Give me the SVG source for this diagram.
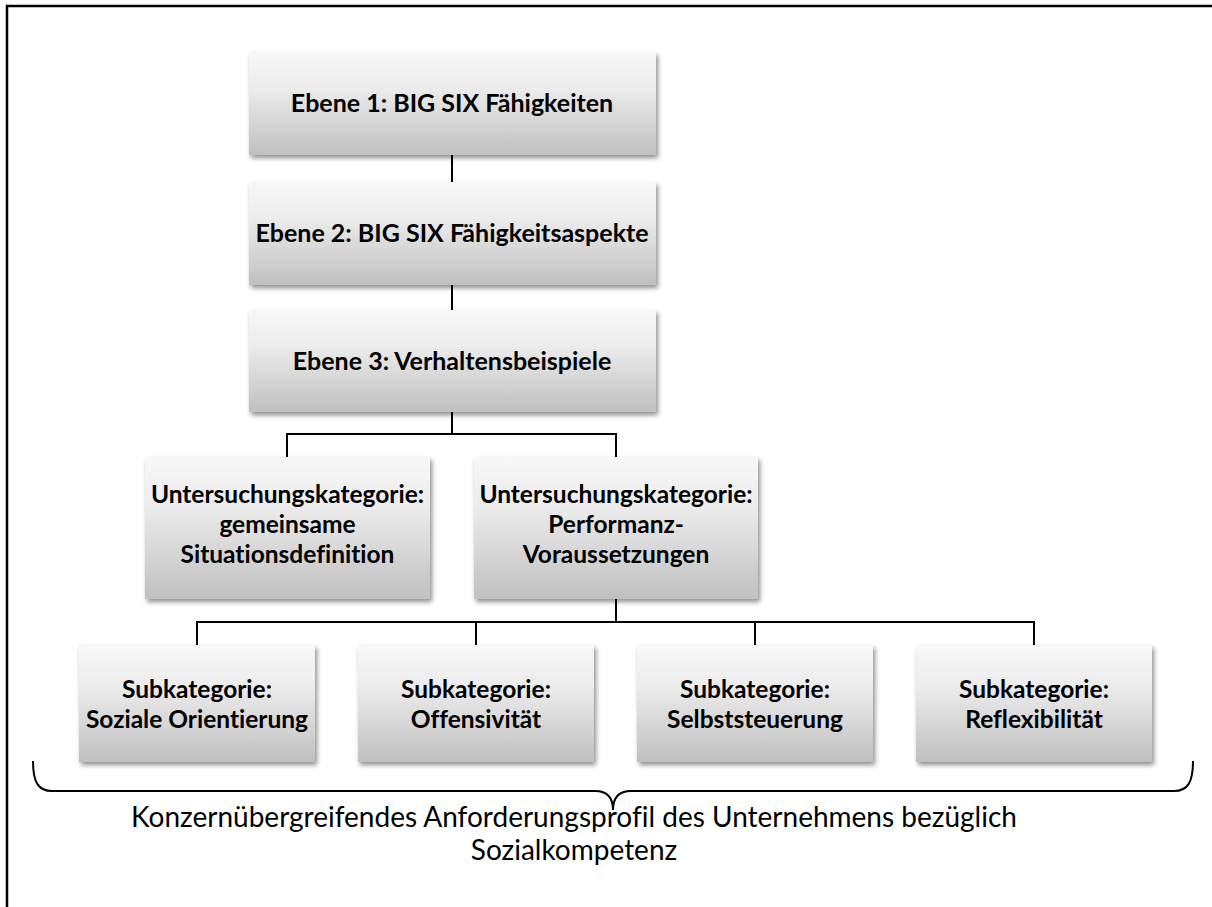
<svg xmlns="http://www.w3.org/2000/svg" width="1212" height="907" viewBox="0 0 1212 907">
  <style>
    text { font-variant-ligatures: none; font-feature-settings: "liga" 0, "dlig" 0; }
    .box { fill: url(#boxGrad); filter: url(#shadow); }
    .lbl { font-family: Lato, "Liberation Sans", sans-serif; font-weight: bold; fill: #000; text-anchor: middle; }
    .l1 { font-size: 25px; }
    .l2 { font-size: 24.5px; }
    .l3 { font-size: 24.5px; }
    .note { font-family: Lato, "Liberation Sans", sans-serif; font-size: 28px; fill: #000; text-anchor: middle; }
    .conn { fill: none; stroke: #000; stroke-width: 2; }
  </style>
  <defs>
    <linearGradient id="boxGrad" x1="0" y1="0" x2="0" y2="1">
      <stop offset="0" stop-color="#f8f8f8"/>
      <stop offset="0.35" stop-color="#ececec"/>
      <stop offset="1" stop-color="#c0c0c0"/>
    </linearGradient>
    <filter id="shadow" x="-10%" y="-10%" width="125%" height="130%">
      <feGaussianBlur in="SourceAlpha" stdDeviation="2.5"/>
      <feOffset dx="2" dy="3" result="b"/>
      <feComponentTransfer><feFuncA type="linear" slope="0.45"/></feComponentTransfer>
      <feMerge><feMergeNode/><feMergeNode in="SourceGraphic"/></feMerge>
    </filter>
  </defs>

  <rect width="1212" height="907" fill="#fff"/>
  <!-- outer frame (top and left edges) -->
  <path d="M7,907 V6 H1212" fill="none" stroke="#000" stroke-width="2.5"/>

  <!-- connectors -->
  <g id="connectors" class="conn">
    <path d="M452,155 V182"/>
    <path d="M452,285 V310"/>
    <path d="M452,412 V434 M287,457 V434 H616 V457"/>
    <path d="M616,599 V622 M197,645 V622 H1034 V645 M476,622 V645 M755,622 V645"/>
  </g>

  <g id="level1">
    <rect class="box" x="249" y="52" width="407" height="103"/>
    <text class="lbl l1" x="452" y="112">Ebene 1: BIG SIX Fähigkeiten</text>
  </g>
  <g id="level2">
    <rect class="box" x="249" y="182" width="407" height="103"/>
    <text class="lbl l1" x="452" y="242">Ebene 2: BIG SIX Fähigkeitsaspekte</text>
  </g>
  <g id="level3">
    <rect class="box" x="249" y="310" width="407" height="102"/>
    <text class="lbl l1" x="452" y="370">Ebene 3: Verhaltensbeispiele</text>
  </g>

  <g id="cat-situation">
    <rect class="box" x="145" y="457" width="285" height="142"/>
    <text class="lbl l2" x="287.5" y="503">Untersuchungskategorie:</text>
    <text class="lbl l2" x="287.5" y="533">gemeinsame</text>
    <text class="lbl l2" x="287.5" y="563">Situationsdefinition</text>
  </g>
  <g id="cat-performanz">
    <rect class="box" x="474" y="457" width="284" height="142"/>
    <text class="lbl l2" x="616" y="503">Untersuchungskategorie:</text>
    <text class="lbl l2" x="616" y="533">Performanz-</text>
    <text class="lbl l2" x="616" y="563">Voraussetzungen</text>
  </g>

  <g id="sub-orientierung">
    <rect class="box" x="79" y="645" width="236" height="117"/>
    <text class="lbl l3" x="197" y="698">Subkategorie:</text>
    <text class="lbl l3" x="197" y="728">Soziale Orientierung</text>
  </g>
  <g id="sub-offensivitaet">
    <rect class="box" x="358" y="645" width="236" height="117"/>
    <text class="lbl l3" x="476" y="698">Subkategorie:</text>
    <text class="lbl l3" x="476" y="728">Offensivität</text>
  </g>
  <g id="sub-selbststeuerung">
    <rect class="box" x="637" y="645" width="236" height="117"/>
    <text class="lbl l3" x="755" y="698">Subkategorie:</text>
    <text class="lbl l3" x="755" y="728">Selbststeuerung</text>
  </g>
  <g id="sub-reflexibilitaet">
    <rect class="box" x="916" y="645" width="236" height="117"/>
    <text class="lbl l3" x="1034" y="698">Subkategorie:</text>
    <text class="lbl l3" x="1034" y="728">Reflexibilität</text>
  </g>

  <!-- curly brace spanning the subcategories -->
  <g id="brace">
    <path class="conn" stroke-width="2.5" d="M33,761 C33,782 38,791 52,791 H595 C606,791 613,796 613,810 C613,796 620,791 631,791 H1174 C1188,791 1193,782 1193,761"/>
  </g>

  <g id="caption">
    <text class="note" x="574" y="827">Konzernübergreifendes Anforderungsprofil des Unternehmens bezüglich</text>
    <text class="note" x="574" y="860">Sozialkompetenz</text>
  </g>
</svg>
